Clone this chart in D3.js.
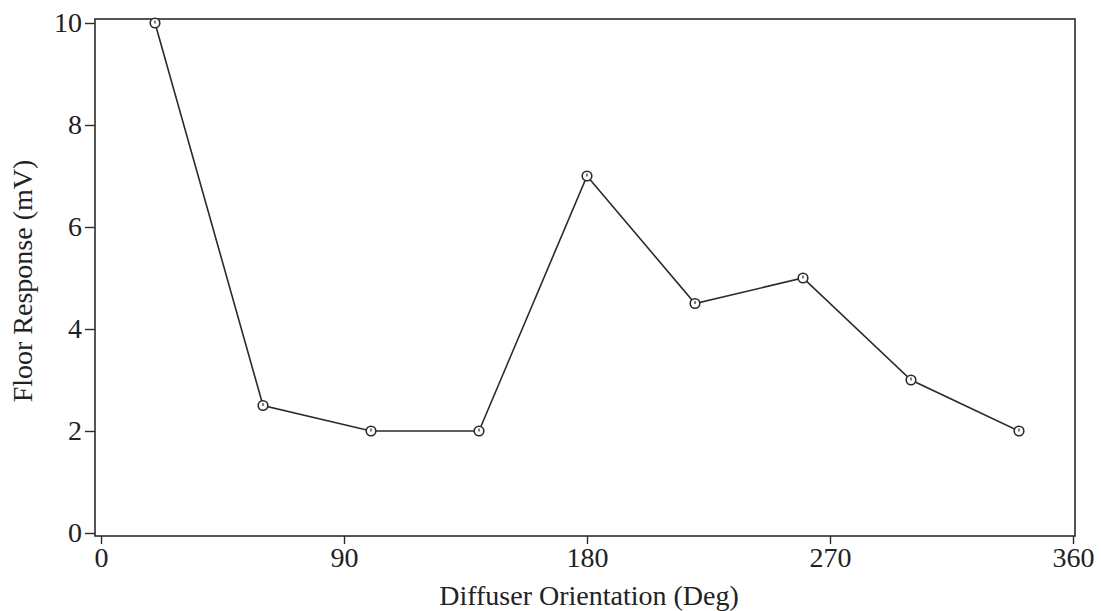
<!DOCTYPE html>
<html>
<head>
<meta charset="utf-8">
<script src="https://cdn.jsdelivr.net/npm/d3@7"></script>
<style>
  html, body { margin: 0; padding: 0; background: #fff; }
  svg { display: block; }
  text { font-family: "Liberation Serif", "Times New Roman", serif; fill: #222; }
</style>
</head>
<body>
<svg id="chart" width="1101" height="611"></svg>
<script>
// Diffuser orientation (deg) and measured floor response (mV)
const orientation = [20, 60, 100, 140, 180, 220, 260, 300, 340];
const response = [10, 2.5, 2, 2, 7, 4.5, 5, 3, 2];
const xTicks = [0, 90, 180, 270, 360];
const yTicks = [0, 2, 4, 6, 8, 10];

const svg = d3.select("#chart");
const frame = { left: 95, right: 1075, top: 19, bottom: 536 };

const x = d3.scaleLinear().domain([0, 360]).range([101, 1073]);
const y = d3.scaleLinear().domain([0, 10]).range([533, 23]);

const ink = "#2b2b2b";

// plot frame
svg.append("rect")
  .attr("x", frame.left).attr("y", frame.top)
  .attr("width", frame.right - frame.left)
  .attr("height", frame.bottom - frame.top)
  .attr("fill", "none").attr("stroke", ink).attr("stroke-width", 1.6);

// x axis ticks and labels
const xAxis = d3.axisBottom(x).tickValues(xTicks).tickSize(8).tickPadding(3);
const gx = svg.append("g").attr("transform", `translate(0,${frame.bottom})`).call(xAxis);
gx.select(".domain").remove();
gx.selectAll("line").attr("stroke", ink).attr("stroke-width", 1.4);
gx.selectAll("text").attr("font-size", 28).attr("fill", "#222")
  .style("font-family", '"Liberation Serif", serif');

// y axis ticks and labels
const yAxis = d3.axisLeft(y).tickValues(yTicks).tickSize(10).tickPadding(3);
const gy = svg.append("g").attr("transform", `translate(${frame.left},0)`).call(yAxis);
gy.select(".domain").remove();
gy.selectAll("line").attr("stroke", ink).attr("stroke-width", 1.4);
gy.selectAll("text").attr("font-size", 28).attr("fill", "#222")
  .style("font-family", '"Liberation Serif", serif');

// axis titles
svg.append("text")
  .attr("x", 589).attr("y", 605)
  .attr("text-anchor", "middle").attr("font-size", 28)
  .text("Diffuser Orientation (Deg)");

svg.append("text")
  .attr("transform", "translate(32,281) rotate(-90)")
  .attr("text-anchor", "middle").attr("font-size", 28)
  .text("Floor Response (mV)");

// data line
const pts = orientation.map((d, i) => [d, response[i]]);
svg.append("path")
  .datum(pts)
  .attr("fill", "none").attr("stroke", ink).attr("stroke-width", 1.6)
  .attr("d", d3.line().x(d => x(d[0])).y(d => y(d[1])));

// open circle markers with a small inner tick
const m = svg.append("g").selectAll("g").data(pts).join("g")
  .attr("transform", d => `translate(${x(d[0])},${y(d[1])})`);
m.append("circle").attr("r", 4.8)
  .attr("fill", "#fff").attr("stroke", ink).attr("stroke-width", 1.6);
m.append("line").attr("x1", 0).attr("x2", 0).attr("y1", -2.6).attr("y2", 0.6)
  .attr("stroke", ink).attr("stroke-width", 1.2);
</script>
</body>
</html>
